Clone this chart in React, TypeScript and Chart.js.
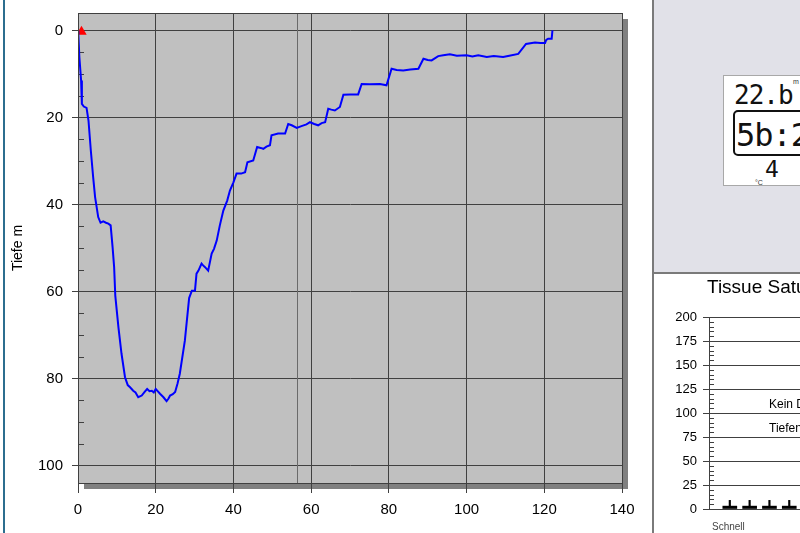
import React, { useEffect, useRef } from "react";
import { Chart, registerables } from "chart.js";

Chart.register(...registerables);

// ---- Dive profile data (minutes, metres) ----
const timeMin = [
  0, 0.1, 0.35, 0.8, 1.0, 1.5, 2.2, 2.7, 3.3, 3.9, 4.4, 5.2, 5.8, 6.5, 7.2, 7.8, 8.4, 8.9, 9.3, 9.6,
  10.4, 11.2, 12.1, 12.8, 13.4, 14.2, 14.8, 15.5, 16.4, 17.2, 17.8, 18.4, 19.0, 19.5, 20.0, 20.5,
  21.1, 22.0, 22.8, 23.3, 23.7, 24.4, 25.0, 25.6, 26.2, 27.5, 28.6, 29.3, 30.1, 30.5, 31.0, 31.8,
  32.2, 32.7, 33.5, 34.4, 35.0, 35.7, 36.5, 37.4, 38.4, 39.1, 40.0, 40.8, 42.0, 43.0, 43.6, 45.1,
  46.1, 47.0, 47.7, 48.5, 49.4, 49.8, 51.5, 53.3, 54.1, 55.0, 56.3, 57.5, 58.8, 59.7, 60.8, 61.8,
  62.7, 63.6, 64.4, 65.2, 66.1, 67.4, 68.3, 70.0, 72.1, 73.0, 75.1, 77.7, 79.4, 80.7, 82.0, 83.7,
  85.5, 87.6, 88.9, 90.0, 91.0, 92.7, 94.0, 95.7, 97.5, 100.0, 101.5, 103.0, 105.2, 107.0, 109.4,
  111.0, 113.3, 115.3, 117.6, 119.0, 120.2, 120.5, 121.0, 121.9, 122.1,
];
const depthM = [
  0, 1.1, 6.1, 11.5, 16.9, 17.5, 17.8, 20.7, 27.6, 33.7, 38.3, 42.9, 44.2, 43.9, 44.2, 44.4, 44.8, 49.8, 54.4, 61,
  68.2, 74.3, 79.7, 81.5, 82.0, 82.8, 83.2, 84.3, 83.9, 83.0, 82.4, 82.9, 82.8, 83.2, 82.4, 82.9,
  83.5, 84.3, 85.2, 84.6, 83.9, 83.6, 83.1, 81.2, 78.9, 71.3, 61.5, 59.8, 59.8, 55.9, 55.2, 53.6,
  54.0, 54.4, 55.2, 51.3, 50.2, 48.3, 44.8, 41.4, 39.1, 36.8, 34.9, 32.9, 32.9, 32.6, 30.3, 29.9,
  26.8, 27.0, 27.2, 26.7, 26.4, 24.1, 23.7, 23.7, 21.5, 21.8, 22.4, 22.0, 21.6, 21.1, 21.5, 21.8,
  21.3, 21.1, 18.0, 18.2, 18.4, 17.6, 14.8, 14.7, 14.7, 12.3, 12.4, 12.3, 12.6, 8.8, 9.1, 9.2,
  9.0, 8.8, 6.5, 6.8, 6.9, 5.9, 5.7, 5.5, 5.8, 5.7, 6.0, 5.7, 6.1, 5.9, 6.1,
  5.8, 5.4, 3.1, 2.8, 2.9, 2.9, 2.2, 1.9, 1.9, 0.0,
];
const xTickValues = [0, 20, 40, 60, 80, 100, 120, 140];
const depthTickValues = [0, 20, 40, 60, 80, 100];
const depthMinorTicks = [5, 10, 15, 25, 30, 35, 45, 50, 55, 65, 70, 75, 85, 90, 95];
const cursorTime = [56.3];
const startMarkerTime = [0.9];
const startMarkerDepth = [0.3];

// ---- Tissue saturation data ----
const compartments = [1, 2, 3, 4, 5, 6, 7, 8, 9, 10, 11, 12, 13, 14, 15, 16];
const tissueValues = [3, 3, 3, 3, 3, 3, 3, 3, 3, 3, 3, 3, 3, 3, 3, 3];
const tissueMarks = [9, 9, 9, 9, 9, 9, 9, 9, 9, 9, 9, 9, 9, 9, 9, 9];
const tissueTickValues = [0, 25, 50, 75, 100, 125, 150, 175, 200];

const FONT = "'Liberation Sans', Arial, Helvetica, sans-serif";
const GRID = "#404040";

const profileDecor = {
  id: "profileDecor",
  beforeDraw(chart: any) {
    const { ctx, chartArea: a } = chart;
    ctx.save();
    ctx.fillStyle = "#808080";
    ctx.fillRect(a.left + 6, a.top + 6, a.right - a.left, a.bottom - a.top);
    ctx.fillStyle = "#c0c0c0";
    ctx.fillRect(a.left, a.top, a.right - a.left, a.bottom - a.top);
    ctx.restore();
  },
  beforeDatasetsDraw(chart: any) {
    const { ctx, chartArea: a, scales } = chart;
    ctx.save();
    ctx.lineWidth = 1;
    ctx.strokeStyle = "#6a6a6a";
    for (const t of cursorTime) {
      const x = Math.round(scales.x.getPixelForValue(t)) + 0.5;
      ctx.beginPath();
      ctx.moveTo(x, a.top);
      ctx.lineTo(x, a.bottom);
      ctx.stroke();
    }
    ctx.strokeStyle = GRID;
    for (const d of depthMinorTicks) {
      const y = Math.round(scales.y.getPixelForValue(d)) + 0.5;
      ctx.beginPath();
      ctx.moveTo(a.left, y);
      ctx.lineTo(a.left + 6, y);
      ctx.stroke();
    }
    ctx.restore();
  },
  afterDatasetsDraw(chart: any) {
    const { ctx, chartArea: a } = chart;
    ctx.save();
    ctx.strokeStyle = GRID;
    ctx.lineWidth = 1;
    ctx.strokeRect(Math.round(a.left) + 0.5, Math.round(a.top) + 0.5, Math.round(a.right - a.left), Math.round(a.bottom - a.top));
    ctx.restore();
  },
};

const tissueDecor = {
  id: "tissueDecor",
  beforeDatasetsDraw(chart: any) {
    const { ctx, chartArea: a, scales } = chart;
    ctx.save();
    ctx.strokeStyle = GRID;
    ctx.lineWidth = 1;
    for (let v = 5; v < 200; v += 5) {
      if (v % 25 === 0) continue;
      const y = Math.round(scales.y.getPixelForValue(v)) + 0.5;
      ctx.beginPath();
      ctx.moveTo(a.left, y);
      ctx.lineTo(a.left + 5, y);
      ctx.stroke();
    }
    ctx.restore();
  },
};

function noPadX(s: any, h: number) {
  s.height = h;
  s.paddingLeft = 0;
  s.paddingRight = 0;
}
function noPadY(s: any, w: number) {
  s.width = w;
  s.paddingTop = 0;
  s.paddingBottom = 0;
}

function ProfileChart() {
  const ref = useRef<HTMLCanvasElement>(null);
  useEffect(() => {
    const chart = new Chart(ref.current!, {
      type: "line",
      data: {
        datasets: [
          {
            data: timeMin.map((t, i) => ({ x: t, y: depthM[i] })),
            borderColor: "#0000ff",
            borderWidth: 2,
            pointRadius: 0,
            tension: 0,
            fill: false,
          },
          {
            data: startMarkerTime.map((t, i) => ({ x: t, y: startMarkerDepth[i] })),
            showLine: false,
            pointStyle: "triangle",
            pointRadius: 6,
            backgroundColor: "#ff0000",
            borderColor: "#ff0000",
            borderWidth: 0,
          },
        ],
      },
      options: {
        responsive: false,
        animation: false,
        devicePixelRatio: 1,
        layout: { padding: { left: 0, top: 13, right: 28, bottom: 0 } },
        plugins: { legend: { display: false }, tooltip: { enabled: false } },
        scales: {
          x: {
            type: "linear",
            min: 0,
            max: 140,
            afterBuildTicks(s: any) {
              s.ticks = xTickValues.map((v) => ({ value: v }));
            },
            afterFit(s: any) {
              noPadX(s, 50);
            },
            ticks: { color: "#000", font: { family: FONT, size: 15 }, padding: 8, maxRotation: 0 },
            grid: { color: GRID, tickColor: GRID, tickLength: 10, lineWidth: 1 },
            border: { display: true, color: GRID },
          },
          y: {
            type: "linear",
            reverse: true,
            min: -4,
            max: 104,
            afterBuildTicks(s: any) {
              s.ticks = depthTickValues.map((v) => ({ value: v }));
            },
            afterFit(s: any) {
              noPadY(s, 78);
            },
            ticks: { color: "#000", font: { family: FONT, size: 15 }, padding: 9 },
            grid: { color: GRID, tickColor: GRID, tickLength: 6, lineWidth: 1 },
            border: { display: true, color: GRID },
            title: {
              display: true,
              text: "Tiefe m",
              color: "#000",
              font: { family: FONT, size: 14 },
              padding: { top: 10, bottom: 0 },
            },
          },
        },
      },
      plugins: [profileDecor],
    } as any);
    return () => chart.destroy();
  }, []);
  return <canvas ref={ref} width={650} height={533} style={{ position: "absolute", left: 0, top: 0 }} />;
}

function TissueChart() {
  const ref = useRef<HTMLCanvasElement>(null);
  useEffect(() => {
    const chart = new Chart(ref.current!, {
      type: "bar",
      data: {
        datasets: [
          {
            data: compartments.map((c, i) => ({ x: c, y: tissueValues[i] })),
            backgroundColor: "#000",
            borderWidth: 0,
            barThickness: 14,
            grouped: false,
          },
          {
            data: compartments.map((c, i) => ({ x: c, y: [tissueValues[i], tissueMarks[i]] })),
            backgroundColor: "#000",
            borderWidth: 0,
            barThickness: 1.5,
            grouped: false,
          },
        ],
      },
      options: {
        responsive: false,
        animation: false,
        devicePixelRatio: 1,
        layout: { padding: { left: 0, top: 41, right: 6, bottom: 24 } },
        plugins: { legend: { display: false }, tooltip: { enabled: false } },
        scales: {
          x: { type: "linear", min: -0.05, max: 16.5, offset: false, display: false },
          y: {
            min: 0,
            max: 200,
            afterBuildTicks(s: any) {
              s.ticks = tissueTickValues.map((v) => ({ value: v }));
            },
            afterFit(s: any) {
              noPadY(s, 56);
            },
            ticks: { color: "#000", font: { family: FONT, size: 13 }, padding: 6 },
            grid: { color: GRID, tickColor: GRID, tickLength: 6 },
            border: { display: true, color: GRID },
          },
        },
      },
      plugins: [tissueDecor],
    } as any);
    return () => chart.destroy();
  }, []);
  return <canvas ref={ref} width={390} height={257} style={{ position: "absolute", left: 653, top: 276 }} />;
}

export default function App() {
  const lcd = "'DejaVu Sans Mono', 'Liberation Mono', monospace";
  return (
    <div
      style={{
        position: "fixed",
        left: 0,
        top: 0,
        width: 800,
        height: 533,
        overflow: "hidden",
        background: "#ffffff",
        fontFamily: FONT,
      }}
    >
      <div style={{ position: "absolute", left: 3, top: 0, width: 2, height: 533, background: "#2c6e8f" }} />
      <ProfileChart />
      {/* right upper panel */}
      <div
        style={{
          position: "absolute",
          left: 652,
          top: 0,
          width: 148,
          height: 274,
          background: "#e1e1e8",
          borderLeft: "2px solid #7a7a7a",
          borderBottom: "2px solid #7a7a7a",
          boxSizing: "border-box",
        }}
      />
      <div
        style={{
          position: "absolute",
          left: 723,
          top: 75,
          width: 90,
          height: 111,
          background: "#fff",
          border: "1px solid #a8a8a8",
          boxSizing: "border-box",
        }}
      >
        <div style={{ position: "absolute", left: 69, top: 2, fontSize: 7, color: "#333" }}>m</div>
        <div style={{ position: "absolute", left: 10, top: 6, fontFamily: lcd, fontSize: 26, lineHeight: "26px", color: "#111", letterSpacing: -1 }}>
          22.b
        </div>
        <div
          style={{
            position: "absolute",
            left: 9,
            top: 34,
            width: 90,
            height: 46,
            border: "2px solid #111",
            borderRadius: 5,
            boxSizing: "border-box",
          }}
        />
        <div style={{ position: "absolute", left: 12, top: 43, fontFamily: lcd, fontSize: 32, lineHeight: "32px", color: "#111", letterSpacing: -1 }}>
          5b:2
        </div>
        <div style={{ position: "absolute", left: 41, top: 82, fontFamily: lcd, fontSize: 23, lineHeight: "23px", color: "#111" }}>4</div>
        <div style={{ position: "absolute", left: 31, top: 103, fontSize: 7, color: "#333" }}>°C</div>
      </div>
      {/* lower panel */}
      <div
        style={{
          position: "absolute",
          left: 652,
          top: 274,
          width: 148,
          height: 259,
          background: "#fff",
          borderLeft: "2px solid #7a7a7a",
          boxSizing: "border-box",
        }}
      />
      <TissueChart />
      <div style={{ position: "absolute", left: 707, top: 277, fontSize: 19, lineHeight: "19px", color: "#000", whiteSpace: "nowrap" }}>
        Tissue Saturation
      </div>
      <div style={{ position: "absolute", left: 769, top: 398, fontSize: 12, lineHeight: "12px", color: "#000", whiteSpace: "nowrap" }}>
        Kein Dekostopp
      </div>
      <div style={{ position: "absolute", left: 769, top: 422, fontSize: 12, lineHeight: "12px", color: "#000", whiteSpace: "nowrap" }}>
        Tiefenstopp
      </div>
      <div style={{ position: "absolute", left: 712, top: 522, fontSize: 10, lineHeight: "10px", color: "#444", whiteSpace: "nowrap" }}>
        Schnell
      </div>
    </div>
  );
}
